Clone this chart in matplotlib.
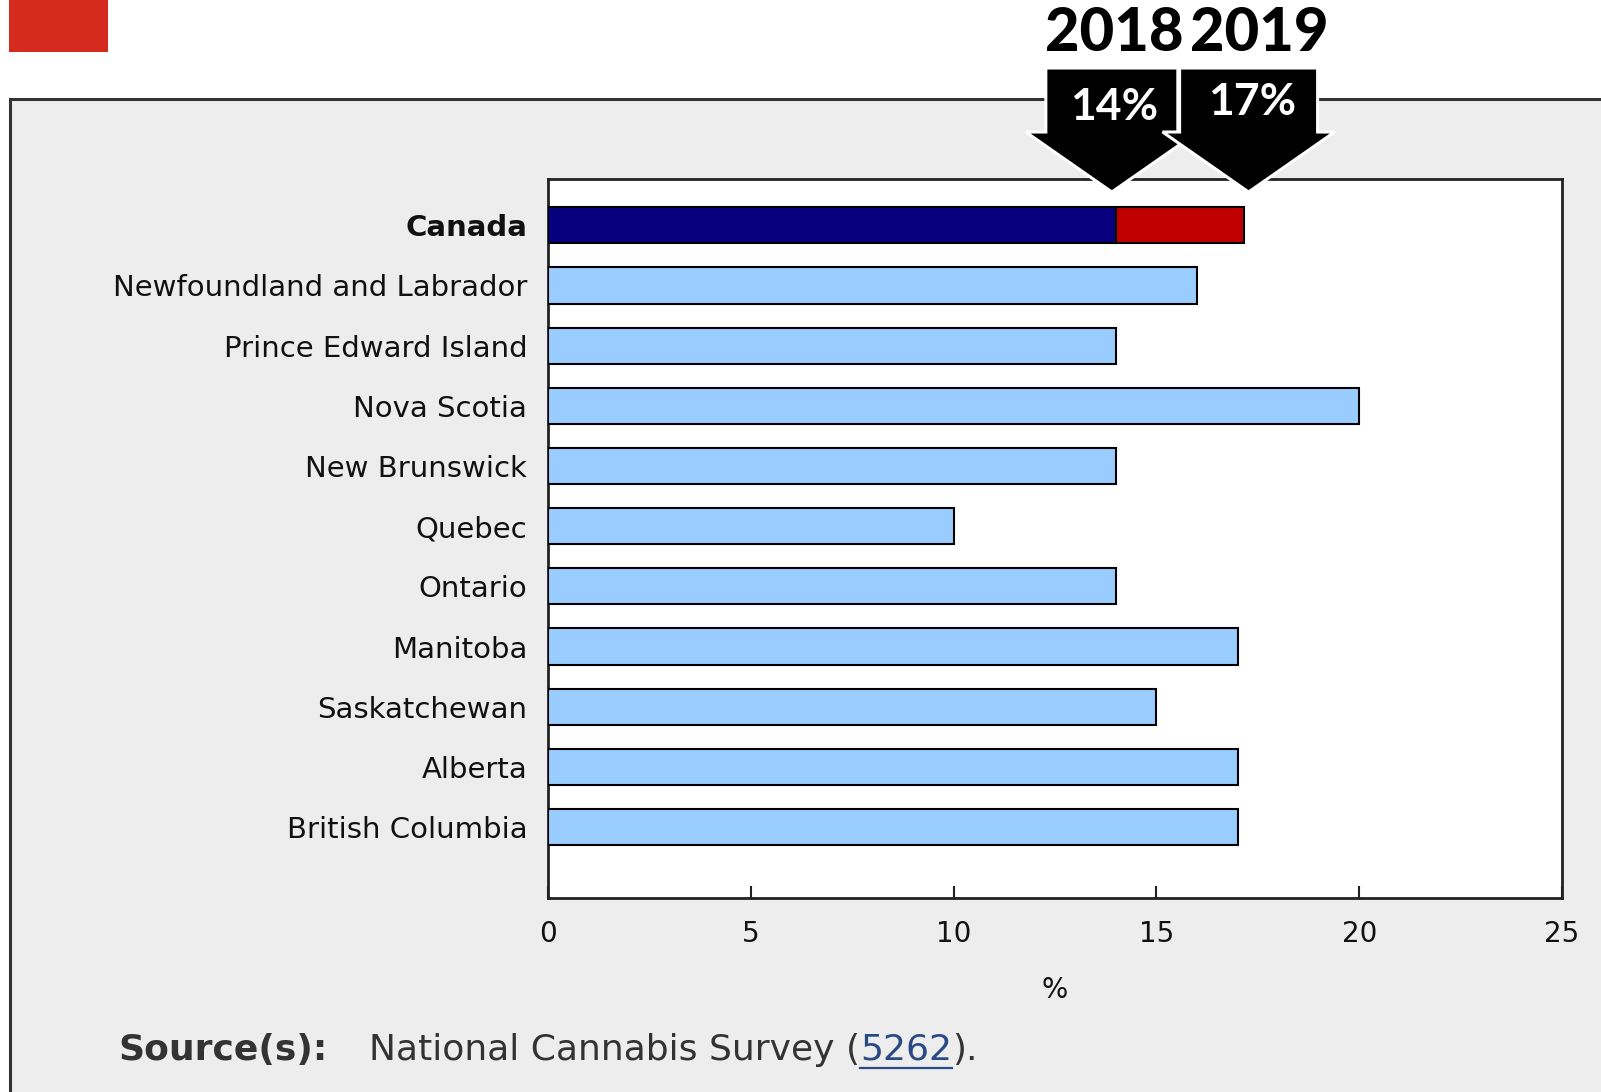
import matplotlib
matplotlib.use('Agg')
from matplotlib import pyplot as plt
from matplotlib.patches import Rectangle, Polygon

# Data
regions = ['Canada', 'Newfoundland and Labrador', 'Prince Edward Island', 'Nova Scotia',
           'New Brunswick', 'Quebec', 'Ontario', 'Manitoba', 'Saskatchewan', 'Alberta',
           'British Columbia']
values_2018 = [14, 16, 14, 20, 14, 10, 14, 17, 15, 17, 17]
canada_2019 = 17.15
years = ['2018', '2019']
year_labels = ['14%', '17%']
x_ticks = [0, 5, 10, 15, 20, 25]

W, H = 1601, 1092
fig = plt.figure(figsize=(W / 100, H / 100), dpi=100)
fig.patch.set_facecolor('white')

# Background panel (pixel coordinates)
bg = fig.add_axes([0, 0, 1, 1], zorder=0)
bg.set_xlim(0, W)
bg.set_ylim(H, 0)
bg.axis('off')
bg.add_patch(Rectangle((9, 0), 99, 52, facecolor='#d52b1e', edgecolor='none'))
bg.add_patch(Rectangle((10, 99), W + 50, H + 50, facecolor='#ededed',
                       edgecolor='#333333', linewidth=2.2))
src_fs = 26
bg.text(118, 1050, 'Source(s):', fontsize=src_fs, fontweight='bold', color='#333333',
        va='center', ha='left')
t = bg.text(369, 1050, 'National Cannabis Survey (', fontsize=src_fs, color='#333333',
            va='center', ha='left')
fig.canvas.draw()
bb = t.get_window_extent()
t2 = bg.text(bb.x1, 1050, '5262', fontsize=src_fs, color='#2a4a85', va='center', ha='left')
fig.canvas.draw()
bb2 = t2.get_window_extent()
bg.plot([bb2.x0, bb2.x1], [1068, 1068], color='#2a4a85', lw=1.6)
bg.text(bb2.x1, 1050, ').', fontsize=src_fs, color='#333333', va='center', ha='left')

# Main bar chart
ax = fig.add_axes([548 / W, 1 - 898 / H, (1562 - 548) / W, (898 - 179) / H], zorder=1)
ax.set_facecolor('white')
pos = list(range(len(regions)))
colors = ['#06007f'] + ['#99ccff'] * (len(regions) - 1)
ax.barh(pos, values_2018, height=0.6, color=colors, edgecolor='black', linewidth=1.5, zorder=3)
ax.barh(pos[0], canada_2019 - values_2018[0], left=values_2018[0], height=0.6,
        color='#c00000', edgecolor='black', linewidth=1.5, zorder=3)
ax.set_xlim(0, 25)
ax.set_ylim(len(regions) - 1 + 1.18, -0.77)
ax.set_xticks(x_ticks)
ax.set_xticklabels([str(v) for v in x_ticks])
ax.set_yticks(pos)
ax.set_yticklabels(regions)
ax.get_yticklabels()[0].set_fontweight('bold')
ax.tick_params(axis='y', length=0, pad=15, labelsize=21, labelcolor='#111111')
ax.tick_params(axis='x', direction='in', length=9, width=1.5, pad=16, labelsize=20,
               labelcolor='#111111', color='#222222')
ax.set_xlabel('%', fontsize=20, labelpad=20, color='#111111')
for s in ax.spines.values():
    s.set_linewidth(2)
    s.set_color('#222222')

# Overlay for arrows
ov = fig.add_axes([0, 0, 1, 1], zorder=2)
ov.set_xlim(0, W)
ov.set_ylim(H, 0)
ov.axis('off')
ov.patch.set_alpha(0)
fig.canvas.draw()
tips = [values_2018[0], canada_2019]
tip_shift = [-4, 5]
body_hw = [66, 69]
year_dx = [2, 11]
pct_dx = [2, 4]
pct_y = [107, 102]
for i, v in enumerate(tips):
    tx = ax.transData.transform((v, 0))[0] + tip_shift[i]
    hw = body_hw[i]
    verts = [(tx - hw, 68), (tx + hw, 68), (tx + hw, 132), (tx + 86, 132),
             (tx, 192), (tx - 86, 132), (tx - hw, 132)]
    ov.add_patch(Polygon(verts, closed=True, facecolor='black', edgecolor='white',
                         linewidth=2.2, zorder=3 + i))
    ov.text(tx + year_dx[i], 33, years[i], fontsize=43, fontfamily='Lato',
            fontweight='black', color='black', ha='center', va='center', zorder=3 + i)
    ov.text(tx + pct_dx[i], pct_y[i], year_labels[i], fontsize=32,
            fontfamily='Lato', fontweight='bold', color='white', ha='center', va='center',
            zorder=3 + i)

plt.savefig('out.png', dpi=100)
